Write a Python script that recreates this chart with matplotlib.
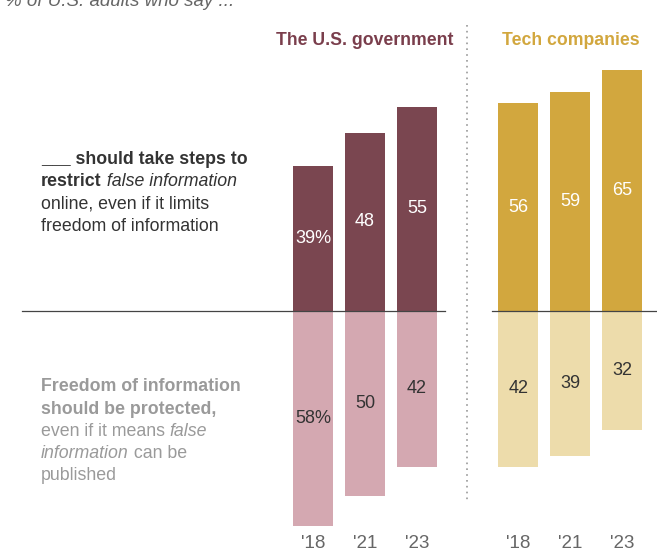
import matplotlib
matplotlib.use("Agg")
import matplotlib.pyplot as plt
from matplotlib.transforms import IdentityTransform

plt.rcParams['font.family'] = ['Liberation Sans', 'DejaVu Sans']

# values (% of U.S. adults)
years = ["'18", "'21", "'23"]
gov_restrict = [39, 48, 55]
gov_freedom = [58, 50, 42]
tech_restrict = [56, 59, 65]
tech_freedom = [42, 39, 32]

W, H = 657, 552
fig = plt.figure(figsize=(W / 100, H / 100), dpi=100)
ax = fig.add_axes([0, 0, 1, 1])

# data layout: one unit = 52 px horizontally, 3.71 px per percentage point
ux, uy = 52.0, 3.71
x0_px, base_px = 313.0, 311.0
ax.set_xlim(-x0_px / ux, (W - x0_px) / ux)
ax.set_ylim(-(H - base_px) / uy, base_px / uy)
ax.axis('off')

def px_x(p):
    return (p - x0_px) / ux

def px_y(p):
    return (base_px - p) / uy

gov_x = [0, 1, 2]
tech_x = [3.95, 4.95, 5.95]
bw = 0.77

gov_dark, gov_light = '#7a4650', '#d4a8b1'
tech_dark, tech_light = '#d2a73e', '#eddcab'

ax.bar(gov_x, gov_restrict, width=bw, color=gov_dark)
ax.bar(gov_x, [-v for v in gov_freedom], width=bw, color=gov_light)
ax.bar(tech_x, tech_restrict, width=bw, color=tech_dark)
ax.bar(tech_x, [-v for v in tech_freedom], width=bw, color=tech_light)

lab_font = dict(fontsize=13, ha='center', va='center')
for i, (x, v) in enumerate(zip(gov_x, gov_restrict)):
    ax.text(x, v / 2, f'{v}%' if i == 0 else f'{v}', color='white', **lab_font)
for i, (x, v) in enumerate(zip(gov_x, gov_freedom)):
    ax.text(x, -v / 2, f'{v}%' if i == 0 else f'{v}', color='#333333', **lab_font)
for x, v in zip(tech_x, tech_restrict):
    ax.text(x, v / 2, f'{v}', color='white', **lab_font)
for x, v in zip(tech_x, tech_freedom):
    ax.text(x, -v / 2, f'{v}', color='#333333', **lab_font)

# zero line, broken around the divider
ax.plot([px_x(22), px_x(445)], [0, 0], color='#444444', lw=0.9)
ax.plot([px_x(492), px_x(W)], [0, 0], color='#444444', lw=0.9)
# dotted divider
ax.plot([px_x(467), px_x(467)], [px_y(25), px_y(500)], color='#999999',
        lw=1.2, linestyle=(0, (1, 2.5)))

# year ticks
for x, y in zip(gov_x + tech_x, years + years):
    ax.text(x, px_y(543), y, fontsize=13.5, color='#666666', ha='center', va='center')

# group headers
ax.text(1, px_y(40), 'The U.S. government', fontsize=12.7, fontweight='bold',
        color='#7a3e4c', ha='center', va='center')
ax.text(4.95, px_y(40), 'Tech companies', fontsize=12.7, fontweight='bold',
        color='#d2a73e', ha='center', va='center')

# subtitle, running off the top edge
fig.text(234, H - 6, '% of U.S. adults who say ...', transform=IdentityTransform(),
         fontsize=13.5, style='italic', color='#666666', ha='right', va='baseline')

renderer = fig.canvas.get_renderer()

def draw_line(x, y_center, runs, color, size=12.8):
    # draw mixed-style runs on one line, y given in px from top
    y = H - (y_center + 5.5)
    for txt, weight, style in runs:
        t = fig.text(x, y, txt, transform=IdentityTransform(), fontsize=size,
                     fontweight=weight, style=style, color=color,
                     ha='left', va='baseline')
        x += t.get_window_extent(renderer).width

N, B, I = ('normal', 'normal'), ('bold', 'normal'), ('normal', 'italic')

upper = [
    [('___ should take steps to',) + B],
    [('restrict',) + B, (' false information',) + I],
    [('online, even if it limits',) + N],
    [('freedom of information',) + N],
]
for yc, runs in zip([158, 180.5, 203, 225.5], upper):
    draw_line(41, yc, runs, '#333333')

lower = [
    [('Freedom of information',) + B],
    [('should be protected,',) + B],
    [('even if it means ',) + N, ('false',) + I],
    [('information',) + I, (' can be',) + N],
    [('published',) + N],
]
for yc, runs in zip([385.5, 408, 430, 452.5, 475], lower):
    draw_line(41, yc, runs, '#9a9a9a')

fig.savefig('out.png', dpi=100)
